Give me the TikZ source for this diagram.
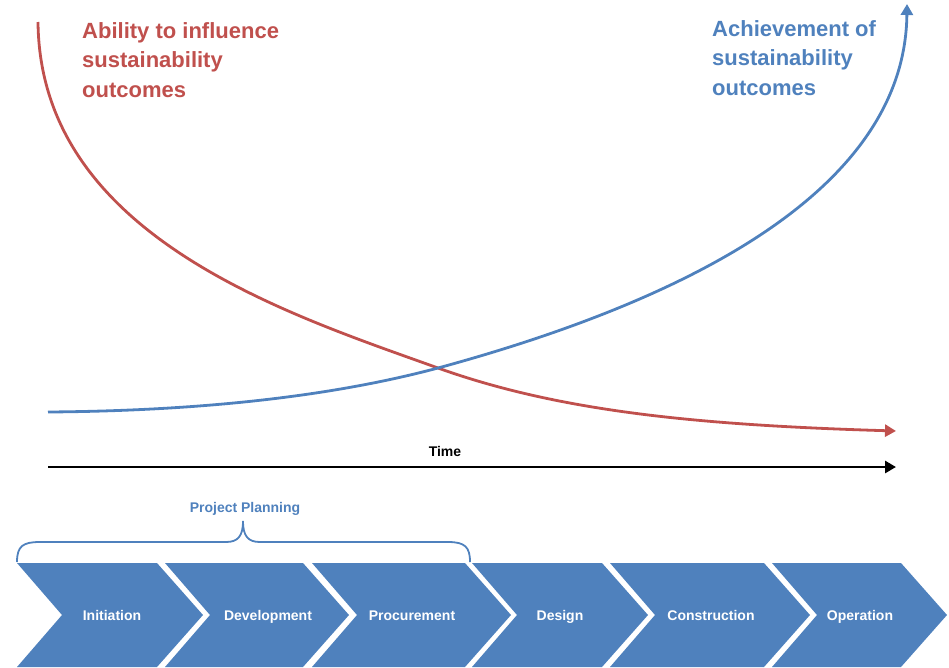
\documentclass[tikz,border=0pt]{standalone}
\usepackage{fontspec}
\setmainfont{Liberation Sans}
\usetikzlibrary{arrows.meta}
\definecolor{ored}{HTML}{C0504D}
\definecolor{oblue}{HTML}{4F81BD}
\tikzset{
  curve/.style={line width=2.8pt, -{Triangle[length=11pt,width=12pt]}},
  chev/.style={fill=oblue, draw=none},
  chevtext/.style={text=white, font=\fontsize{14}{16}\selectfont\bfseries, inner sep=0pt, anchor=base},
  title/.style={font=\fontsize{22}{29.5}\selectfont\bfseries, align=left, anchor=north west, inner sep=0pt},
  small/.style={font=\fontsize{14}{16}\selectfont\bfseries, inner sep=0pt, anchor=base}
}
\begin{document}
\begin{tikzpicture}[x=1pt,y=-1pt]
\useasboundingbox (0,0) rectangle (949,667);
% chevrons
\foreach \xl/\xr in {17/157, 165/303, 312/465, 472/602, 610/764, 772/901}{
  \fill[chev] (\xl,563) -- (\xr,563) -- (\xr+46,615) -- (\xr,667) -- (\xl,667) -- (\xl+45,615) -- cycle;
}
\node[chevtext] (c1) at (112,620) {Initiation};
\node[chevtext] (c2) at (268,620) {Development};
\node[chevtext] (c3) at (412,620) {Procurement};
\node[chevtext] (c4) at (560,620) {Design};
\node[chevtext] (c5) at (711,620) {Construction};
\node[chevtext] (c6) at (860,620) {Operation};
% brace
\draw[oblue, line width=1.8pt] (17,562) .. controls (17,546) and (23,542) .. (40,542) -- (226,542)
  .. controls (238,542) and (243,536) .. (243,521)
  .. controls (243,536) and (248,542) .. (260,542) -- (448,542)
  .. controls (465,542) and (470,547) .. (470,562);
\node[small, text=oblue] (pp) at (245,512) {Project Planning};
% time axis
\coordinate (t0) at (48,467);
\coordinate (t1) at (896,467);
\draw[line width=2.8pt, -{Triangle[length=11pt,width=12pt]}] (t0) -- (t1);
\node[small, text=black] (time) at (445,456) {Time};
% red curve
\coordinate (r0) at (38,22);
\coordinate (x) at (438,368);
\coordinate (r1) at (896,431);
\draw[ored, curve] (r0) .. controls (40,236) and (288,314) .. (x)
  .. controls (558,411) and (695,425) .. (r1);
% blue curve
\coordinate (b0) at (48,412);
\coordinate (b1) at (907,4);
\draw[oblue, curve] (b0) .. controls (180,411) and (318,400) .. (x)
  .. controls (688,300) and (905,190) .. (b1);
% titles
\node[title, text=ored] (rt) at (82,22) {Ability to influence\\sustainability\\outcomes};
\node[title, text=oblue] (bt) at (712,20) {Achievement of\\sustainability\\outcomes};
\end{tikzpicture}
\end{document}
